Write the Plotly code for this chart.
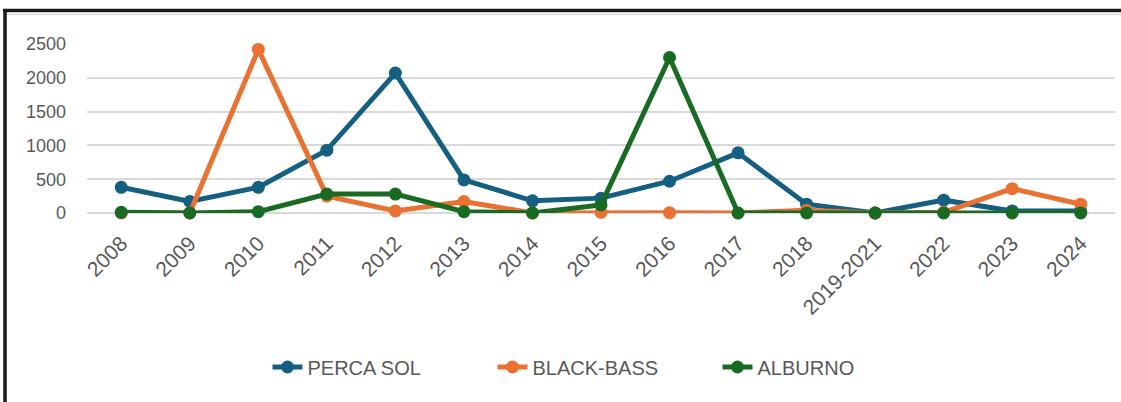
import plotly.graph_objects as go

years = ["2008", "2009", "2010", "2011", "2012", "2013", "2014", "2015", "2016",
         "2017", "2018", "2019-2021", "2022", "2023", "2024"]
perca_sol = [380, 170, 380, 930, 2070, 490, 180, 220, 470, 890, 130, 0, 190, 30, 30]
black_bass = [0, 0, 2420, 250, 30, 170, 0, 10, 5, 0, 40, 0, 10, 360, 130]
alburno = [10, 0, 20, 280, 280, 20, 0, 120, 2300, 0, 0, 0, 0, 0, 0]

series = [
    ("PERCA SOL", perca_sol, "#156082"),
    ("BLACK-BASS", black_bass, "#E97132"),
    ("ALBURNO", alburno, "#196B24"),
]

fig = go.Figure()
for name, vals, col in series:
    fig.add_trace(go.Scatter(
        x=years, y=vals, name=name, mode="lines+markers",
        line=dict(color=col, width=5),
        marker=dict(color=col, size=13),
        cliponaxis=False,
    ))

W, H = 1121, 402
ml, mr, mt, mb = 87, 6, 44, 189
pw, ph = W - ml - mr, H - mt - mb

def px_x(x):
    return (x - ml) / pw

def px_y(y):
    return (H - mb - y) / ph

fig.update_layout(
    width=W, height=H,
    margin=dict(l=ml, r=mr, t=mt, b=mb, pad=0),
    paper_bgcolor="white", plot_bgcolor="white",
    font=dict(family="Liberation Sans, Arial, sans-serif", size=18, color="#595959"),
    showlegend=True,
    legend=dict(orientation="h", x=px_x(605), xanchor="center", y=px_y(367), yanchor="middle",
                font=dict(size=20, color="#595959", family="Liberation Sans, Arial, sans-serif"),
                traceorder="normal", entrywidth=180, entrywidthmode="pixels"),
    xaxis=dict(type="category", tickangle=-45, showgrid=False, showline=False, zeroline=False,
               ticks="", tickfont=dict(size=21, color="#595959"), range=[-0.5, 14.5],
               ticklabelstandoff=13),
    yaxis=dict(range=[0, 2500], tickvals=[0, 500, 1000, 1500, 2000, 2500], showgrid=True,
               gridcolor="#D9D9D9", gridwidth=1.5, zeroline=True, zerolinecolor="#D9D9D9",
               zerolinewidth=1.5, showline=False, ticks="", tickfont=dict(size=18, color="#595959"),
               ticklabelstandoff=20),
    shapes=[
        dict(type="line", xref="paper", yref="paper", x0=px_x(3), x1=px_x(W), y0=px_y(10.5), y1=px_y(10.5),
             line=dict(color="#1a1a1a", width=3.5)),
        dict(type="line", xref="paper", yref="paper", x0=px_x(6), x1=px_x(W), y0=px_y(14.5), y1=px_y(14.5),
             line=dict(color="#D9D9D9", width=1.5)),
        dict(type="line", xref="paper", yref="paper", x0=px_x(5), x1=px_x(5), y0=px_y(9), y1=px_y(H),
             line=dict(color="#1a1a1a", width=3.5)),
    ],
)

fig.write_html("out.html", config={"displayModeBar": False},
               post_script="document.body.style.margin='0';document.body.style.overflow='hidden';")
